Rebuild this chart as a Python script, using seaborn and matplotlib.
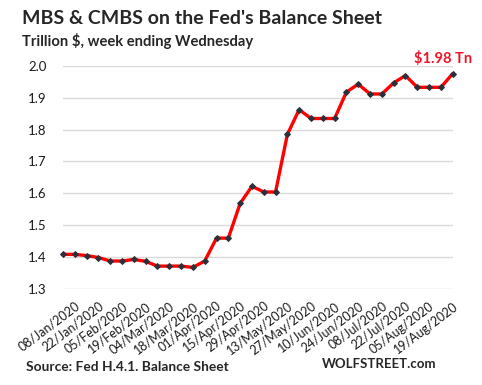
import pandas as pd
import matplotlib.pyplot as plt
import matplotlib.dates as mdates
import seaborn as sns

# weekly values, Wednesdays 1 Jan - 19 Aug 2020 (trillion $)
weeks = pd.date_range("2020-01-01", "2020-08-19", freq="7D")
mbs = [1.408, 1.408, 1.404, 1.398, 1.387, 1.387, 1.392, 1.386, 1.371, 1.371,
       1.371, 1.367, 1.387, 1.459, 1.459, 1.568, 1.622, 1.604, 1.604, 1.785,
       1.863, 1.835, 1.835, 1.835, 1.918, 1.943, 1.912, 1.912, 1.947, 1.970,
       1.933, 1.933, 1.933, 1.976]
yticks = [1.3, 1.4, 1.5, 1.6, 1.7, 1.8, 1.9, 2.0]
last_label = "$1.98 Tn"

df = pd.DataFrame({"week": weeks, "mbs": mbs})

sns.set_style("white")
plt.rcParams["font.family"] = ["Lato", "DejaVu Sans"]

fig = plt.figure(figsize=(4.82, 3.85), dpi=100)
ax = fig.add_axes([63 / 482, 1 - 288.7 / 385, (452.7 - 63) / 482, (288.7 - 66) / 385])

sns.lineplot(data=df, x="week", y="mbs", ax=ax, color="#FF0000", lw=2.4,
             marker="D", markersize=3.0, markerfacecolor="#2B303B",
             markeredgecolor="#2B303B", clip_on=False, zorder=3)

ax.set_xlim(weeks[0], weeks[-1])
ax.set_ylim(1.3, 2.0)
ax.set_yticks(yticks)
ax.set_yticklabels([f"{v:.1f}" for v in yticks])
ax.yaxis.grid(True, color="#D9D9D9", lw=1)
ax.set_axisbelow(True)
for s in ax.spines.values():
    s.set_visible(False)

ax.set_xticks(weeks[1::2])
ax.xaxis.set_major_formatter(mdates.DateFormatter("%d/%b/%Y"))
ax.tick_params(axis="x", length=0, pad=8, labelsize=9, colors="#1a1a1a")
ax.tick_params(axis="y", length=0, pad=12, labelsize=9.5, colors="#1a1a1a")
for lab in ax.get_xticklabels():
    lab.set_rotation(37)
    lab.set_ha("right")
    lab.set_rotation_mode("anchor")
ax.set_xlabel("")
ax.set_ylabel("")

ax.annotate(last_label, xy=(weeks[-1], mbs[-1]), xytext=(-28, 11),
            textcoords="offset points", color="#F01428", fontsize=10.5,
            fontweight="bold", ha="left", va="center")

fig.text(22 / 482, 1 - 19 / 385, "MBS & CMBS on the Fed's Balance Sheet",
         fontsize=14, fontweight="bold", va="center")
fig.text(22 / 482, 1 - 41 / 385, "Trillion $, week ending Wednesday",
         fontsize=10.6, fontweight="bold", va="center")
fig.text(26 / 482, 1 - 367 / 385, "Source: Fed H.4.1. Balance Sheet",
         fontsize=9.9, fontweight="bold", va="center")
fig.text(322 / 482, 1 - 364 / 385, "WOLFSTREET.com",
         fontsize=9.5, fontweight="bold", va="center")

fig.savefig("out.png", dpi=100)
